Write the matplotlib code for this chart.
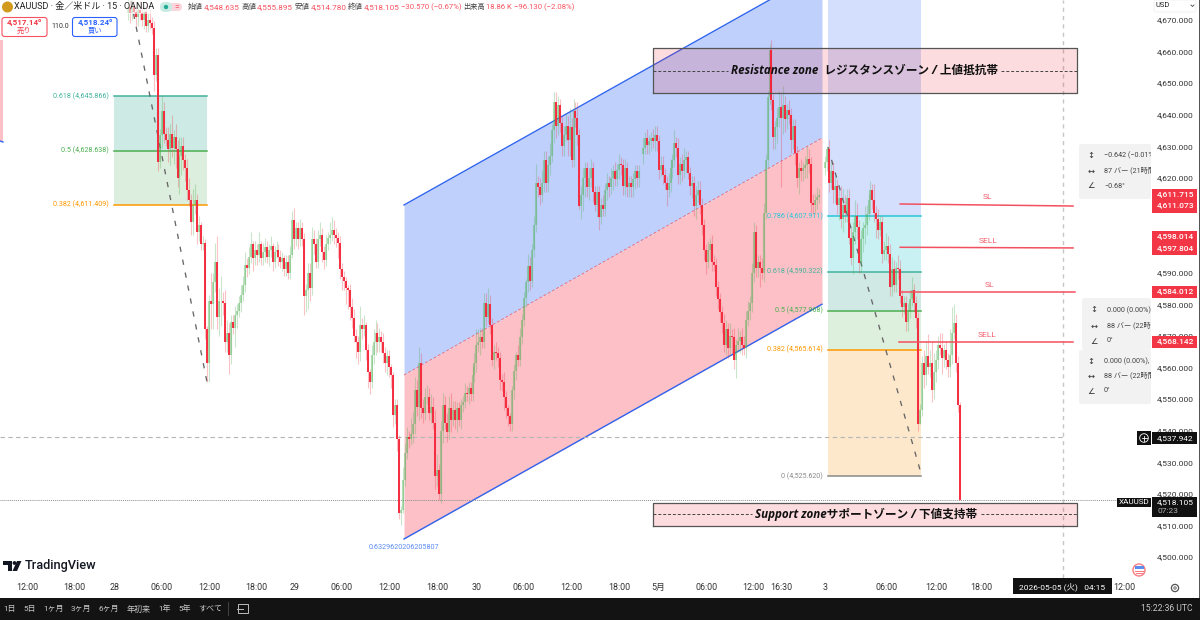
import numpy as np
import matplotlib
matplotlib.use("Agg")
import matplotlib.pyplot as plt
from matplotlib.patches import Rectangle, FancyBboxPatch, Polygon, Circle

plt.rcParams['font.family'] = ['Roboto', 'Noto Sans CJK JP', 'DejaVu Sans']

# ---------- candle data (prices) ----------
closes_1 = [4674,4672,4674,4672.5,4671,4673,4672,4670,4672.5,4668,4670,4669,4667.5,4652.5,4659,4625,4633.5,4641,4634,4632,4629,4634,4629.5,4633,4629,4620,4627,4630,4625.5,4623,4616,4613,4606,4611.5,4613,4603,4605,4599,4599.5,4572,4561.5,4581,4580,4587,4593.5,4576,4581,4581,4580.5,4568]
closes_2 = [4571,4564,4574.5,4572.5,4576.5,4578,4580.5,4583,4586,4592.5,4591.5,4595,4599,4594.5,4597,4595.5,4599,4594.5,4596.5,4598,4595,4597,4598.5,4593.5,4596.5,4597,4595,4593.5,4594.5,4591,4593.5,4590,4595.5,4606.5,4600.5,4604,4600.5,4604,4600.5,4582.5,4584.5,4590,4585,4600.5,4599,4593.5,4600.5,4602,4596.5,4594]
closes_3 = [4599,4601,4602,4603.5,4602,4601,4599.5,4591,4588.5,4587.5,4585,4584.5,4579,4575.5,4570,4568,4565,4573.5,4572,4573.5,4565.5,4558.5,4555.5,4564,4568,4571,4568,4569.5,4568,4564.5,4561.5,4563.5,4560,4557.5,4545,4548,4537.5,4514,4515,4524.5,4533,4538,4537.5,4539,4542,4553,4547.5,4561.5,4547,4545.5]
closes_4 = [4550.5,4550.5,4545.5,4547.5,4542.5,4525.5,4527.5,4520,4540,4548,4542.5,4539.5,4547,4543.5,4546.5,4543.5,4547,4543.5,4548,4549,4552,4551.5,4553.5,4551.5,4557.5,4561.5,4567,4568,4569.5,4568,4580.5,4576,4580,4573.5,4562.5,4565,4564.5,4563,4556,4555.5,4550.5,4547,4544.5,4542,4553,4559,4564,4562.5,4569.5,4575]
closes_5 = [4582,4587,4592,4587.5,4597,4605,4618.5,4617,4614.5,4618.5,4625.5,4618.5,4624,4627,4635,4644,4636.5,4643,4637.5,4630,4633.5,4636.5,4632,4636,4625.5,4641,4639,4633.5,4611,4614.5,4620,4623,4617,4620,4623,4615.5,4611.5,4615.5,4607.5,4611.5,4610,4616,4618.5,4617,4620,4622,4619.5,4622.5,4624.5,4624]
closes_6 = [4617.5,4623,4617,4618.5,4617,4619.5,4622,4620,4622]
closes_7 = [4629.5,4632.5,4630.5,4631.5,4632.5,4631.5,4633.5,4631.5,4622.5,4624,4621,4618.5,4616,4618.5,4623,4625.5,4631,4629.5,4621,4624.5,4622,4625.5,4626.5,4621.5,4617.5,4618.5,4611,4614.5,4616,4611.5,4605,4597,4593.5,4597,4599,4593.5,4592.5,4585.5,4581.5,4577.5,4574,4567,4572,4566,4570,4569.5,4562.5,4567,4568.5,4569.5,4567,4566,4575,4578,4580.5,4590,4603,4591.5,4593.5,4591.5,4590,4609,4625.5,4645.5,4660.5,4644.5,4633,4636,4639,4642.5,4639,4643,4638.5,4641.5,4640,4632,4636.5,4628,4620,4623,4622,4623,4624,4626,4624.5,4612,4611.5,4613,4614,4614.5]
closes_8 = [4625,4629,4618.5,4622,4616,4617.5,4611.5,4613.5,4607,4611.5,4609,4613.5,4601,4594.5,4603,4608,4604.5,4593,4600.5,4604,4605,4608.5,4613,4616,4613,4609,4607,4603.5,4606,4596,4597,4598.5,4596,4585.5,4591,4586,4591.5,4591,4582.5,4579,4580.5,4574.5,4577.5,4581.5,4584.5,4580.5,4575.5,4542,4546.5,4561.5,4557.5,4563.5,4560,4561.5,4553,4558.5,4562.5,4567,4566,4563,4565.5,4562.5,4560,4564,4571,4574,4561.5,4548,4518.105]

up_1 = [3,2,3,2,2,3,3,2,2,3,2,3,2,2,2,2,2,5,3,2,4,3,6,2,4,3,6,3,3,2,3,4,2,5,5,2,3,1,2,1,1,2,9,3,6,8,4,8,3,4]
dn_1 = [2,3,2,2,3,3,2,2,3,2,2,2,2,5,2,3,2,4,3,2,4,5,3,5,6,3,5,6,3,4,3,2,4,4,3,4,3,2,2,3,6,6,8,8,3,4,6,8,4,3]
up_2 = [4,3,2,2,3,2,2,3,3,4,2,3,4,1,3,2,4,1,3,3,2,2,3,1,2,3,2,2,2,1,2,2,3,3,4,2,2,3,2,2,2,3,3,4,3,2,3,4,2,2]
dn_2 = [3,6,3,2,6,4,2,3,2,2,3,2,2,4,2,3,2,2,2,3,2,3,2,3,2,2,3,2,3,2,2,2,2,1,3,2,3,2,2,6,5,6,4,2,3,2,2,2,3,3]
up_3 = [3,2,4,4,3,2,2,2,2,2,1,1,2,3,3,2,2,6,2,3,1,2,1,3,4,4,3,3,2,3,2,2,2,1,1,2,2,1,1,4,3,3,2,5,4,4,3,5,3,3]
dn_3 = [2,2,2,2,3,3,5,3,4,3,5,6,4,3,2,5,4,3,3,2,3,5,4,2,3,4,3,3,3,3,3,4,3,4,4,3,4,2,4,1,2,2,3,2,3,3,3,4,3,3]
up_4 = [3,4,3,4,3,4,5,2,3,4,3,3,4,5,3,3,2,2,2,2,3,2,2,2,3,3,5,4,3,3,3,3,5,3,2,2,3,2,2,2,3,2,1,1,1,2,1,3,3,2]
dn_4 = [2,2,2,3,2,4,3,2,3,4,2,3,2,4,2,3,4,2,3,2,2,2,3,2,2,2,3,2,4,2,2,3,2,3,2,3,2,3,3,3,4,3,3,2,2,3,3,2,2,2]
up_5 = [2,1,4,3,2,3,6,2,3,4,3,3,3,4,2,3,3,3,2,2,3,4,3,6,3,4,3,5,2,3,3,2,2,3,3,2,2,2,2,2,3,2,3,2,3,2,3,2,3,2]
dn_5 = [2,3,3,3,2,2,2,3,3,2,3,3,3,3,2,4,4,3,3,3,3,2,5,5,2,2,3,3,1,4,5,6,3,4,3,3,2,4,4,2,2,2,3,3,2,4,2,2,3,3]
up_6 = [2,3,2,2,2,2,2,2,2]
dn_6 = [3,3,3,3,3,3,3,3,3]
up_7 = [3,2,3,2,2,3,3,3,2,3,3,2,2,3,3,2,4,2,3,2,3,4,2,2,2,2,2,3,3,3,2,2,2,3,2,3,2,2,2,2,2,3,3,2,4,2,3,2,4,2,3,3,3,3,2,3,3,2,2,2,3,3,2,2,2,3,2,2,3,5,4,6,3,2,3,2,2,2,2,2,3,2,3,4,3,2,3,2,3,2]
dn_7 = [3,2,3,3,3,2,3,3,3,2,3,2,5,2,3,3,2,3,3,3,3,2,4,2,3,4,3,4,2,3,3,3,4,2,3,3,2,3,3,3,3,2,3,3,2,5,3,6,2,4,3,2,3,2,3,3,3,3,3,6,2,3,2,2,2,3,4,4,5,3,22,5,4,3,3,4,3,4,3,5,3,3,3,4,3,3,3,3,3,2]
up_8 = [2,1,3,3,3,3,2,3,4,5,3,3,3,3,3,5,4,2,3,2,6,3,2,3,2,5,2,3,2,2,3,4,3,3,4,3,2,4,3,2,2,2,3,3,4,2,2,2,2,2,4,5,7,4,7,6,3,3,4,5,2,3,2,8,8,6,3,2,1]
dn_8 = [2,3,3,2,4,4,3,5,3,4,3,3,2,2,5,4,4,3,3,4,5,3,2,4,3,3,6,3,2,3,2,3,3,3,3,2,2,3,2,3,2,3,3,2,2,3,3,2,0,2,4,3,2,3,4,3,3,3,2,5,3,3,3,3,3,2,3,2,0]

section_start = [0, 260, 352]

# price-scale / time-scale ticks (4,600 and 4,610 sit fully under the red price tags)
price_ticks = [4500,4510,4520,4530,4540,4550,4560,4570,4580,4590,4620,4630,4640,4650,4660,4670]
time_ticks = [-51,-27,-7,17,41,65,84,108,132,156,176,200,224,248,268,292,316,330,352,383,408,431,503]
time_labels = ['12:00','18:00','28','06:00','12:00','18:00','29','06:00','12:00','18:00','30','06:00','12:00','18:00','5月','06:00','12:00','16:30','3','06:00','12:00','18:00','12:00']

# drawing-tool anchors
channel_bars = [139.4, 350.5]
channel_top = [4611.4, 4685.6]
channel_mid = [4557.6, 4632.6]
channel_low = [4505.7, 4580.0]

fib1_bars = [-7.1, 39.9]
fib1_levels = [('0.618 (4,645.866)', 4645.866, '#42b39c'), ('0.5 (4,628.638)', 4628.638, '#4caf50'), ('0.382 (4,611.409)', 4611.409, '#ff9800')]
fib2_bars = [353.5, 400.5]
fib2_levels = [('0.786 (4,607.911)', 4607.911, '#26c6da'), ('0.618 (4,590.322)', 4590.322, '#42b39c'),
               ('0.5 (4,577.968)', 4577.968, '#4caf50'), ('0.382 (4,565.614)', 4565.614, '#ff9800'),
               ('0 (4,525.620)', 4525.620, '#8a8a8a')]
fib1_trend_bars = [1.5, 39.9]
fib1_trend_prices = [4676, 4555.4]
fib2_trend_bars = [353.5, 400.5]
fib2_trend_prices = [4629.7, 4526.5]

trade_names = ['SL', 'SELL', 'SL', 'SELL']
trade_bars0 = [390, 390, 390.5, 389.5]
trade_bars1 = [477.3, 477.3, 478.3, 477.3]
trade_p0 = [4611.715, 4598.014, 4584.012, 4568.142]
trade_p1 = [4611.073, 4597.804, 4584.012, 4568.142]

zone_names = ['Resistance zone  レジスタンスゾーン / 上値抵抗帯', 'Support zoneサポートゾーン / 下値支持帯']
zone_top = [4661.0, 4517.1]
zone_bottom = [4646.7, 4509.8]
zone_gap = [(303, 441), (315, 431)]
zone_bars = [265.2, 479.3]

last_price = 4518.105
cross_price = 4537.942
cross_bar = 472.5

# ---------- figure ----------
W, H, TOP, BOT, RIGHT = 1200, 620, 0, 578, 1150
fig = plt.figure(figsize=(12, 6.2), dpi=100, facecolor='white')
ax = fig.add_axes([0, (H - BOT) / H, RIGHT / W, BOT / H])
ax.set_xlim(-128 / 1.98, (RIGHT - 128) / 1.98)
ax.set_ylim(4500 + (557 - BOT) / 3.16, 4500 + 557 / 3.16)
for s in ax.spines.values():
    s.set_visible(False)
ax.yaxis.tick_right()
ax.set_yticks(price_ticks)
ax.set_yticklabels([f'{p:,.3f}' for p in price_ticks])
ax.set_xticks(time_ticks)
ax.set_xticklabels(time_labels)
ax.tick_params(axis='y', length=0, pad=5, labelsize=6.05, labelcolor='#333333')
ax.tick_params(axis='x', length=0, pad=3.6, labelsize=6.4, labelcolor='#333333')

# channel
ax.fill_between(channel_bars, channel_mid, channel_top, color='#bfd0fc', lw=0, zorder=1)
ax.fill_between(channel_bars, channel_low, channel_mid, color='#fcc0c6', lw=0, zorder=1)
ax.plot(channel_bars, channel_top, color='#2f64ee', lw=1.0, zorder=2)
ax.plot(channel_bars, channel_low, color='#2f64ee', lw=1.0, zorder=2)
ax.plot(channel_bars, channel_mid, color='#f0707c', lw=0.7, ls=(0, (3, 2)), zorder=2)
ax.text(139.2, 4503, '0.6329620206205807', color='#5b8cf5', fontsize=5.2, ha='center', va='center', zorder=6)

# fib 1
ax.fill_between(fib1_bars, fib1_levels[1][1], fib1_levels[0][1], color='#cdeae5', lw=0, zorder=1)
ax.fill_between(fib1_bars, fib1_levels[2][1], fib1_levels[1][1], color='#dceedd', lw=0, zorder=1)
for name, p, c in fib1_levels:
    ax.plot(fib1_bars, [p, p], color=c, lw=1.1, zorder=2)
    ax.text(fib1_bars[0] - 2.5, p, name, color=c, fontsize=5.15, ha='right', va='center', zorder=6)
ax.plot(fib1_trend_bars, fib1_trend_prices, color='#666666', lw=0.95, ls=(0, (4, 6)), zorder=2)

# fib 2
ymax = ax.get_ylim()[1]
p2 = [lv[1] for lv in fib2_levels]
for lo, hi, c in [(p2[0], ymax, '#d3dffc'), (p2[1], p2[0], '#c9f1f3'), (p2[2], p2[1], '#d0e9e5'),
                  (p2[3], p2[2], '#ddefdd'), (p2[4], p2[3], '#fde8cc')]:
    ax.fill_between(fib2_bars, lo, hi, color=c, lw=0, zorder=1)
for name, p, c in fib2_levels:
    ax.plot(fib2_bars, [p, p], color=c, lw=1.1, zorder=2)
    ax.text(fib2_bars[0] - 2.5, p, name, color=c, fontsize=5.15, ha='right', va='center', zorder=6)
ax.plot(fib2_trend_bars, fib2_trend_prices, color='#666666', lw=0.95, ls=(0, (4, 6)), zorder=2)

# crosshair / last price
xmin = ax.get_xlim()[0]
ax.plot([xmin, cross_bar], [cross_price] * 2, color='#b5b5b5', lw=0.8, ls=(0, (4, 3)), zorder=2)
ax.axvline((1063 - 128) / 1.98, color='#c6c6c6', lw=1.0, ls=(0, (3, 3)), zorder=2)
ax.plot([xmin, (1117 - 128) / 1.98], [last_price] * 2, color='#8e8e8e', lw=0.7, ls=(0, (1, 1)), zorder=2)

# candles
sections = [(0, closes_1 + closes_2 + closes_3 + closes_4 + closes_5 + closes_6,
             up_1 + up_2 + up_3 + up_4 + up_5 + up_6, dn_1 + dn_2 + dn_3 + dn_4 + dn_5 + dn_6),
            (1, closes_7, up_7, dn_7), (2, closes_8, up_8, dn_8)]
red, grn = ([], [], [], [], []), ([], [], [], [], [])
for sec, cl, up, dn in sections:
    for i, c in enumerate(cl):
        o = cl[i - 1] if i else c - 2
        b = section_start[sec] + i
        u = up[i] if i < len(up) else 1
        d = dn[i] if i < len(dn) else 1
        g = grn if c >= o else red
        g[0].append(b); g[1].append(min(o, c)); g[2].append(max(o, c))
        g[3].append(min(o, c) - d); g[4].append(max(o, c) + u)

ax.vlines(grn[0], grn[3], grn[4], color='#4caf50', alpha=0.30, lw=0.8, zorder=3)
ax.vlines(red[0], red[3], red[4], color='#f23645', alpha=0.30, lw=0.8, zorder=3)
ax.vlines(grn[0], grn[1], grn[2], color='#4caf50', alpha=0.42, lw=1.5, zorder=3.1)
ax.vlines(red[0], red[1], red[2], color='#f5263a', alpha=0.95, lw=1.45, zorder=3.2)

# zones
for i, name in enumerate(zone_names):
    ax.fill_between(zone_bars, zone_bottom[i], zone_top[i], color='#f01525', alpha=0.15, lw=0, zorder=4)
    ax.plot([zone_bars[0], zone_bars[1], zone_bars[1], zone_bars[0], zone_bars[0]],
            [zone_bottom[i], zone_bottom[i], zone_top[i], zone_top[i], zone_bottom[i]],
            color='#555555', lw=0.9, zorder=4.1)
    mid = (zone_top[i] + zone_bottom[i]) / 2
    ax.plot([zone_bars[0], zone_gap[i][0]], [mid, mid], color='#444444', lw=0.7, ls=(0, (3, 2)), zorder=4.1)
    ax.plot([zone_gap[i][1], zone_bars[1]], [mid, mid], color='#444444', lw=0.7, ls=(0, (3, 2)), zorder=4.1)
    ax.text(sum(zone_gap[i]) / 2, mid, name, color='#111111', fontsize=8.4, ha='center', va='center',
            style='italic', weight='bold', family=['Open Sans', 'Noto Sans CJK JP'], zorder=5)

# trade lines
for n, b0, b1, p0, p1 in zip(trade_names, trade_bars0, trade_bars1, trade_p0, trade_p1):
    ax.plot([b0, b1], [p0, p1], color='#f2505e', lw=1.1, zorder=4.5)
    ax.text((b0 + b1) / 2 + 0.5, p0 + 2.1, n, color='#f4606c', fontsize=6.0, ha='center', va='center', zorder=6)

# ---------- overlay of interface elements, in pixel units ----------
ov = fig.add_axes([0, 0, 1, 1], facecolor='none')
ov.set_xlim(0, W); ov.set_ylim(H, 0); ov.axis('off')

def box(x0, y0, x1, y1, fc, ec='none', lw=0, z=5, alpha=None):
    ov.add_patch(Rectangle((x0, y0), x1 - x0, y1 - y0, fc=fc, ec=ec, lw=lw, zorder=z, alpha=alpha))

def label(x, y, s, color='#222222', size=6.05, ha='left', **kw):
    return ov.text(x, y, s, color=color, fontsize=size, ha=ha, va='center', zorder=8, **kw)

# header
box(0, 0, 600, 14, 'white', alpha=0.55, z=4)
ov.add_patch(Circle((7.5, 7), 5.5, fc='#d19a1a', ec='none', zorder=6))
label(14, 7, 'XAUUSD · 金／米ドル · 15 · OANDA', color='#222222', size=6.5)
ov.add_patch(FancyBboxPatch((162, 3), 20, 8, boxstyle='round,pad=0,rounding_size=4', fc='#fbd5dc', ec='none', zorder=6))
ov.add_patch(FancyBboxPatch((160, 2), 12, 10, boxstyle='round,pad=0,rounding_size=5', fc='#c8ebe4', ec='none', zorder=6))
ov.add_patch(Circle((166, 7), 2.2, fc='#22ab94', ec='none', zorder=7))
label(177, 7, '=', color='#f23645', size=6.0, ha='center')
red_txt = '#f7525f'
hdr = [(188, '始値', '4,548.635'), (241, '高値', '4,555.895'), (295, '安値', '4,514.780'), (348, '終値', '4,518.105')]
for x, a, b in hdr:
    label(x, 7, a, color='#444444', size=5.4)
    label(x + 16, 7, b, color=red_txt, size=5.9)
label(401, 7, '−30.570 (−0.67%)', color=red_txt, size=5.6)
label(463, 7, '出来高', color='#444444', size=5.2)
label(486, 7, '18.86 K', color=red_txt, size=5.6)
label(514, 7, '−96.130 (−2.08%)', color=red_txt, size=5.6)

# buy/sell
ov.add_patch(FancyBboxPatch((2, 17.5), 45, 19, boxstyle='round,pad=0,rounding_size=2.5', fc='white', ec='#f7525f', lw=0.8, zorder=6))
ov.add_patch(FancyBboxPatch((72.5, 17.5), 44.5, 19, boxstyle='round,pad=0,rounding_size=2.5', fc='white', ec='#2962ff', lw=0.8, zorder=6))
label(24, 22.5, '4,517.14⁰', color='#f23645', size=5.8, ha='center', weight='bold')
label(24, 31, '売り', color='#f23645', size=5.2, ha='center')
label(95, 22.5, '4,518.24⁰', color='#2962ff', size=5.8, ha='center', weight='bold')
label(95, 31, '買い', color='#2962ff', size=5.2, ha='center')
label(60, 27, '110.0', color='#333333', size=5.0, ha='center')
box(0, 40, 3, 141, '#fcc0c6', z=3)
ov.plot([0, 3], [141, 142], color='#2f64ee', lw=1, zorder=4)

# USD button
ov.add_patch(FancyBboxPatch((1154, 0), 42, 12, boxstyle='round,pad=0,rounding_size=2', fc='white', ec='#ececec', lw=0.5, zorder=4))
label(1156, 5.5, 'USD', color='#222222', size=5.4)
ov.plot([1191, 1192.5, 1194], [5, 6.5, 5], color='#444444', lw=0.6, zorder=8)
box(1198.8, 0, 1200, 598, '#555555')

# red price tags
tags = [(189, 213, [(195, '4,611.715'), (206, '4,611.073')]), (231, 255, [(237, '4,598.014'), (248.5, '4,597.804')]),
        (286, 298, [(292, '4,584.012')]), (336, 348, [(342, '4,568.142')])]
for y0, y1, rows in tags:
    box(1152, y0, 1197, y1, '#f23645', z=7)
    for y, t in rows:
        label(1157, y, t, color='white', weight='medium')

# info boxes
def info(x0, y0, x1, y1, rows):
    ov.add_patch(FancyBboxPatch((x0, y0), x1 - x0, y1 - y0, boxstyle='round,pad=0,rounding_size=2', fc='#f2f2f2', ec='none', zorder=5))
    clip = Rectangle((x0, y0), x1 - x0, y1 - y0, transform=ov.transData)
    for y, ic, t in rows:
        label(x0 + 12, y, ic, color='#333333', size=6, ha='center', family='DejaVu Sans')
        tx = label(x0 + 25, y, t, color='#444444', size=5.2)
        tx.set_clip_on(True)
        tx.set_clip_path(clip)

info(1079, 144, 1151, 199, [(155, '↕', '−0.642 (−0.01%), −6'), (171, '↔', '87 バー (21時間 45分)'), (186, '∠', '−0.68°')])
info(1082, 298, 1151, 350, [(310, '↕', '0.000 (0.00%), 0.00'), (326, '↔', '88 バー (22時間 00分)'), (341, '∠', '0°')])
info(1079, 350, 1151, 404, [(361, '↕', '0.000 (0.00%), 0.00'), (376, '↔', '88 バー (22時間 00分)'), (391, '∠', '0°')])

# black tags
box(1137, 431, 1151, 445, '#111111', z=7)
ov.add_patch(Circle((1144, 438), 4.3, fc='none', ec='white', lw=0.6, zorder=8))
ov.plot([1141.5, 1146.5], [438, 438], color='white', lw=0.6, zorder=8)
ov.plot([1144, 1144], [435.5, 440.5], color='white', lw=0.6, zorder=8)
box(1152, 432, 1197, 444, '#111111', z=7)
label(1157, 438, '4,537.942', color='white')
box(1117, 497.5, 1151, 507, '#111111', z=7)
label(1134, 502, 'XAUUSD', color='white', size=5.9, ha='center')
box(1152, 497, 1197, 517, '#111111', z=7)
label(1157, 502, '4,518.105', color='white')
label(1157, 511, '07:23', color='#b0b0b0', size=6.0)

# logo
ov.add_patch(Polygon([(3, 561), (12, 561), (12, 571), (8, 571), (8, 565), (3, 565)], fc='#131722', ec='none', zorder=8))
ov.add_patch(Circle((14.5, 563), 1.9, fc='#131722', ec='none', zorder=8))
ov.add_patch(Polygon([(17, 561), (21.5, 561), (17, 571), (12.5, 571)], fc='#131722', ec='none', zorder=8))
label(25, 566, 'TradingView', color='#131722', size=9.2, weight='medium')

# flag
ov.add_patch(Circle((1139, 570), 6, fc='white', ec='#f77c80', lw=1, zorder=8))
ov.add_patch(Rectangle((1134.5, 566), 9, 3.2, fc='#5b8def', ec='none', zorder=9))
ov.add_patch(Rectangle((1134.5, 571), 9, 1.1, fc='#f77c80', ec='none', zorder=9))
ov.add_patch(Rectangle((1135.5, 573), 7, 1.1, fc='#f77c80', ec='none', zorder=9))

# date label
box(1013, 578, 1112, 594, '#111111', z=7)
label(1062.5, 587, '2026-05-05 (火)   04:15', color='white', size=6.0, ha='center')
ov.add_patch(Circle((1175, 588), 3.6, fc='none', ec='#555555', lw=0.9, zorder=8))
ov.add_patch(Circle((1175, 588), 1.2, fc='none', ec='#555555', lw=0.6, zorder=8))

# bottom bar
box(0, 598, 1200, 620, '#131313', z=7)
for x, s in [(10, '1日'), (30, '5日'), (53.5, '1ヶ月'), (81, '3ヶ月'), (109, '6ヶ月'), (139, '年初来'), (165, '1年'), (184.5, '5年'), (210.5, 'すべて')]:
    label(x, 608.5, s, color='#c8c8c8', size=5.8, ha='center')
ov.plot([228, 228], [602, 615], color='#444444', lw=0.7, zorder=8)
ov.add_patch(Rectangle((238, 604), 9.5, 9, fc='none', ec='#bdbdbd', lw=0.7, zorder=8))
ov.plot([237, 243], [609, 609], color='#bdbdbd', lw=0.7, zorder=9)
label(1193, 608.5, '15:22:36 UTC', color='#c8c8c8', size=6.2, ha='right')

fig.savefig('out.png', dpi=100)
